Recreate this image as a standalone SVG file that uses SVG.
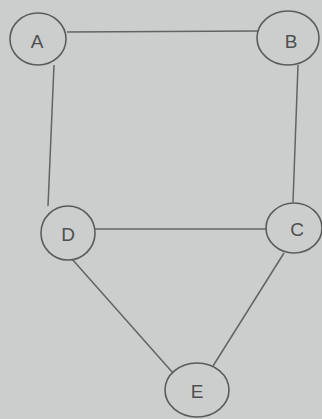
<svg xmlns="http://www.w3.org/2000/svg" width="322" height="419" viewBox="0 0 322 419">
<style>
.n ellipse{fill:none;stroke:#5a5c5b;stroke-width:1.6}
.n text{font-family:"Liberation Sans",Arial,sans-serif;font-size:19px;fill:#4e504f;text-anchor:middle;dominant-baseline:central}
.e line{stroke:#626463;stroke-width:1.5}
</style>
<rect width="322" height="419" fill="#cbcecd"/>
<g id="edges" class="e">
<line x1="67" y1="32" x2="258" y2="31"/>
<line x1="54" y1="65" x2="48" y2="206"/>
<line x1="298" y1="65" x2="293" y2="202"/>
<line x1="95" y1="229" x2="266" y2="229"/>
<line x1="72" y1="259" x2="173" y2="373"/>
<line x1="284" y1="253" x2="213" y2="366"/>
</g>
<g id="A" class="n"><ellipse cx="38" cy="39" rx="28" ry="26"/><text x="37" y="41">A</text></g>
<g id="B" class="n"><ellipse cx="288" cy="38" rx="31" ry="27"/><text x="291" y="41">B</text></g>
<g id="D" class="n"><ellipse cx="68" cy="233" rx="27" ry="27"/><text x="68" y="234">D</text></g>
<g id="C" class="n"><ellipse cx="294" cy="228" rx="28" ry="25"/><text x="297" y="229">C</text></g>
<g id="E" class="n"><ellipse cx="197" cy="390" rx="32" ry="27"/><text x="197" y="391">E</text></g>
</svg>
